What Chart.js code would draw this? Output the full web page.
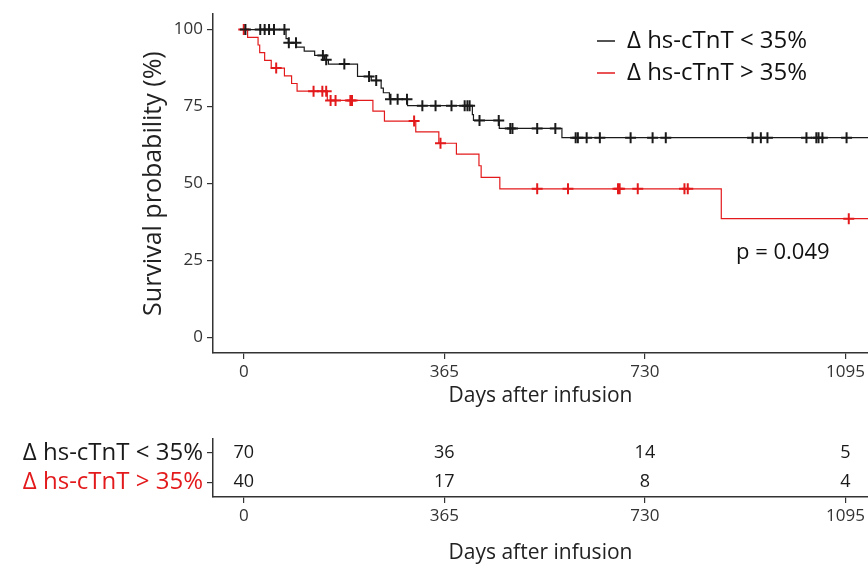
<!DOCTYPE html>
<html>
<head>
<meta charset="utf-8">
<script src="https://cdn.jsdelivr.net/npm/chart.js@4.4.1/dist/chart.umd.min.js"></script>
<style>
  body { margin: 0; background: #fff; }
  canvas { display: block; }
</style>
</head>
<body>
<canvas id="kmChart" width="868" height="420"></canvas>
<canvas id="riskChart" width="868" height="147"></canvas>
<script>
// Kaplan-Meier steps (days, survival %)
const groupLabels = ['\u0394 hs-cTnT < 35%', '\u0394 hs-cTnT > 35%'];
const groupColors = ['#1a1a1a', '#e31a1c'];

const lowTimes = [0, 77, 81, 96, 110, 129, 147, 154, 207, 232, 250, 254, 265, 298, 416, 418, 465, 579, 1140];
const lowSurv = [100, 97.1, 95.7, 94.3, 93.0, 91.6, 90.2, 88.8, 84.8, 83.5, 81.0, 79.5, 77.4, 75.3, 72.4, 70.5, 67.9, 64.9, 64.9];
const lowCensor = [3, 30, 38, 46, 55, 74, 82, 95, 144, 150, 183, 228, 241, 267, 280, 297, 325, 349, 378, 402, 407, 411,
    429, 464, 485, 489, 534, 567, 604, 608, 624, 648, 704, 744, 768, 926, 941, 953, 1024, 1042, 1046, 1053, 1097];

const highTimes = [0, 7, 26, 29, 38, 50, 74, 87, 97, 152, 235, 256, 313, 355, 387, 428, 432, 466, 869, 1140];
const highSurv = [100, 97.5, 95.0, 92.5, 90.0, 87.5, 85.0, 82.5, 80.0, 77.0, 73.5, 70.3, 66.8, 63.1, 59.6, 55.8, 52.0, 48.3, 38.6, 38.6];
const highCensor = [0, 59, 127, 143, 150, 158, 167, 194, 197, 310, 358, 534, 590, 681, 684, 717, 802, 808, 1101];

// number at risk table
const riskTimes = [0, 365, 730, 1095];
const riskLow = [70, 36, 14, 5];
const riskHigh = [40, 17, 8, 4];

const dayTicks = [0, 365, 730, 1095];
const survTicks = [0, 25, 50, 75, 100];
const pValueText = 'p = 0.049';
const pValueAt = { day: 981, surv: 27.5 };

const X_MIN = -56, X_MAX = 1136;

Chart.defaults.font.family = "'Open Sans', sans-serif";
Chart.defaults.color = '#333';

function survAt(times, surv, t) {
    let v = surv[0];
    for (let i = 0; i < times.length; i++) {
        if (times[i] <= t) v = surv[i];
    }
    return v;
}

function toPoints(times, surv) {
    return times.map((t, i) => ({ x: t, y: surv[i] }));
}

function censorPoints(ct, times, surv) {
    return ct.map(t => ({ x: t, y: survAt(times, surv, t) }));
}

const axisGrid = { drawOnChartArea: false, drawTicks: true, tickLength: 6, color: '#333', lineWidth: 1.2 };
const axisBorder = { display: true, color: '#333', width: 1.5 };

function fixedTicks(values) {
    return function (scale) {
        scale.ticks = values.map(v => ({ value: v }));
    };
}

// x axis fills the whole width, no label padding
function fitX(h) {
    return function (s) {
        s.height = h;
        s.paddingLeft = 0;
        s.paddingRight = 0;
    };
}

// move the legend to the top right corner of the plot
const legendMover = {
    id: 'legendMover',
    afterLayout(chart) {
        const lg = chart.legend;
        if (!lg) return;
        const w = lg.width, h = lg.height;
        lg.left = 589;
        lg.top = 21;
        lg.right = lg.left + w;
        lg.bottom = lg.top + h;
    }
};

const pValueLabel = {
    id: 'pValueLabel',
    afterDatasetsDraw(chart) {
        const { ctx, scales: { x, y } } = chart;
        ctx.save();
        ctx.font = "22px 'Open Sans', sans-serif";
        ctx.fillStyle = '#111';
        ctx.textAlign = 'center';
        ctx.textBaseline = 'middle';
        ctx.fillText(pValueText, x.getPixelForValue(pValueAt.day), y.getPixelForValue(pValueAt.surv));
        ctx.restore();
    }
};

const riskNumbers = {
    id: 'riskNumbers',
    afterDatasetsDraw(chart) {
        const { ctx, scales: { x, y } } = chart;
        ctx.save();
        ctx.font = "18px 'Open Sans', sans-serif";
        ctx.fillStyle = '#1a1a1a';
        ctx.textAlign = 'center';
        ctx.textBaseline = 'middle';
        [riskLow, riskHigh].forEach((row, g) => {
            row.forEach((n, i) => {
                ctx.fillText(String(n), x.getPixelForValue(riskTimes[i]), y.getPixelForValue(g));
            });
        });
        ctx.restore();
    }
};

const plainTick = v => String(v);

new Chart(document.getElementById('kmChart'), {
    type: 'scatter',
    data: {
        datasets: [{
            label: groupLabels[0],
            data: toPoints(lowTimes, lowSurv),
            showLine: true,
            stepped: 'before',
            borderColor: groupColors[0],
            borderWidth: 1.2,
            pointRadius: 0,
            pointStyle: 'line',
            pointBorderWidth: 1.5
        }, {
            label: groupLabels[1],
            data: toPoints(highTimes, highSurv),
            showLine: true,
            stepped: 'before',
            borderColor: groupColors[1],
            borderWidth: 1.2,
            pointRadius: 0,
            pointStyle: 'line',
            pointBorderWidth: 1.5
        }, {
            label: 'censor low',
            data: censorPoints(lowCensor, lowTimes, lowSurv),
            pointStyle: 'cross',
            pointRadius: 5.5,
            borderColor: groupColors[0],
            pointBorderWidth: 2
        }, {
            label: 'censor high',
            data: censorPoints(highCensor, highTimes, highSurv),
            pointStyle: 'cross',
            pointRadius: 5.5,
            borderColor: groupColors[1],
            pointBorderWidth: 2
        }]
    },
    options: {
        responsive: false,
        animation: false,
        layout: { autoPadding: false, padding: { top: 12, right: 0, bottom: 0, left: 0 } },
        plugins: {
            legend: {
                position: 'chartArea',
                align: 'start',
                labels: {
                    usePointStyle: true,
                    pointStyleWidth: 18,
                    boxWidth: 18,
                    padding: 8,
                    color: '#111',
                    font: { size: 24 },
                    filter: item => item.datasetIndex < 2
                }
            },
            tooltip: { enabled: false }
        },
        scales: {
            x: {
                type: 'linear',
                min: X_MIN,
                max: X_MAX,
                afterBuildTicks: fixedTicks(dayTicks),
                afterFit: fitX(67),
                grid: axisGrid,
                border: axisBorder,
                ticks: { font: { size: 17 }, color: '#333', padding: 3, maxRotation: 0, callback: plainTick },
                title: { display: true, text: 'Days after infusion', font: { size: 21 }, color: '#222', padding: { top: 0, bottom: 11 } }
            },
            y: {
                min: -5,
                max: 105,
                afterBuildTicks: fixedTicks(survTicks),
                afterFit: s => { s.width = 213; },
                grid: axisGrid,
                border: axisBorder,
                ticks: { font: { size: 17 }, color: '#333', padding: 4, callback: plainTick },
                title: { display: true, text: 'Survival probability (%)', font: { size: 25 }, color: '#222', padding: { top: 139, bottom: 0 } }
            }
        }
    },
    plugins: [legendMover, pValueLabel]
});

new Chart(document.getElementById('riskChart'), {
    type: 'scatter',
    data: { datasets: [] },
    options: {
        responsive: false,
        animation: false,
        layout: { autoPadding: false, padding: { top: 17, right: 0, bottom: 0, left: 0 } },
        plugins: { legend: { display: false }, tooltip: { enabled: false } },
        scales: {
            x: {
                type: 'linear',
                min: X_MIN,
                max: X_MAX,
                afterBuildTicks: fixedTicks(riskTimes),
                afterFit: fitX(70),
                grid: axisGrid,
                border: axisBorder,
                ticks: { font: { size: 17 }, color: '#333', padding: 3, maxRotation: 0, callback: plainTick },
                title: { display: true, text: 'Days after infusion', font: { size: 21 }, color: '#222', padding: { top: 0, bottom: 1 } }
            },
            y: {
                type: 'category',
                labels: groupLabels,
                offset: true,
                afterFit: s => { s.width = 213; },
                grid: Object.assign({}, axisGrid, { offset: false }),
                border: axisBorder,
                ticks: { font: { size: 24 }, color: ctx => groupColors[ctx.index], padding: 4, autoSkip: false }
            }
        }
    },
    plugins: [riskNumbers]
});
</script>
</body>
</html>
